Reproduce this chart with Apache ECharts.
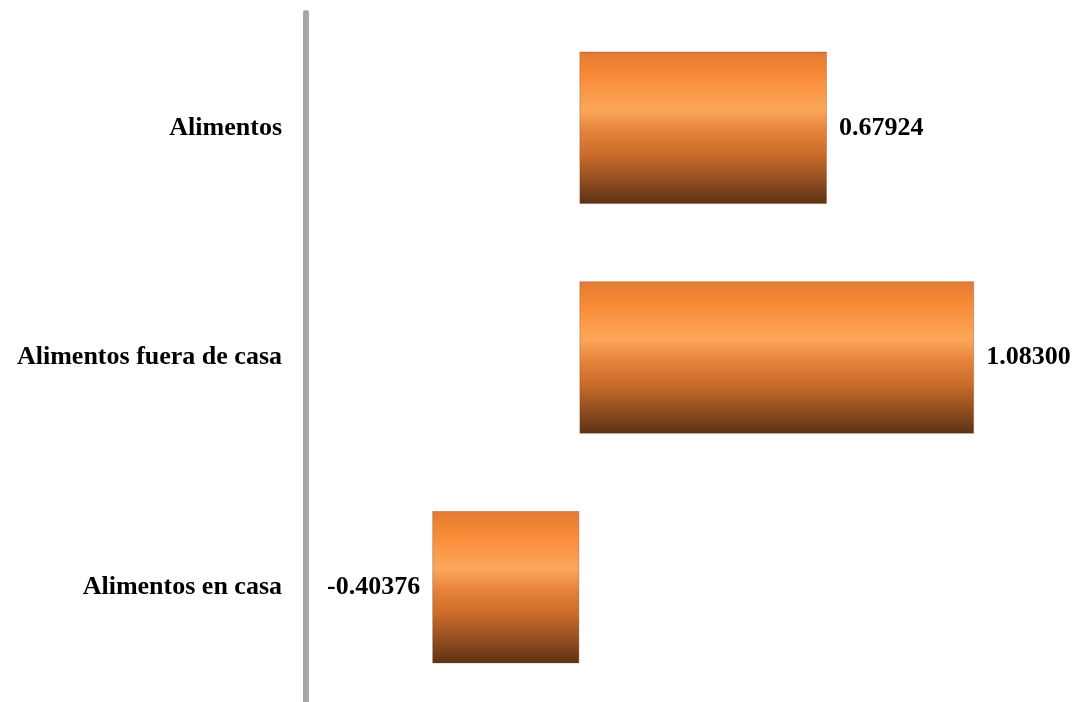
<!DOCTYPE html>
<html>
<head>
<meta charset="utf-8">
<style>
  html, body { margin: 0; padding: 0; background: #ffffff; }
  #chart { width: 1080px; height: 702px; }
</style>
<script src="https://cdn.jsdelivr.net/npm/echarts@6/dist/echarts.min.js"></script>
</head>
<body>
<div id="chart"></div>
<script>
// Categories (top to bottom) and their values
const categories = ['Alimentos', 'Alimentos fuera de casa', 'Alimentos en casa'];
const values = [0.67924, 1.08300, -0.40376];

const FONT = '"Liberation Serif", "Times New Roman", serif';

// Cylinder-like vertical shading for the bars
const barGradient = new echarts.graphic.LinearGradient(0, 0, 0, 1, [
  { offset: 0.00, color: '#e27a32' },
  { offset: 0.15, color: '#f88a36' },
  { offset: 0.38, color: '#fca75b' },
  { offset: 0.52, color: '#e6833b' },
  { offset: 0.68, color: '#c96b2b' },
  { offset: 0.86, color: '#8c4b1f' },
  { offset: 1.00, color: '#5c3213' }
]);

const chart = echarts.init(document.getElementById('chart'));
chart.setOption({
  animation: false,
  grid: { left: 306, width: 729, top: 13, height: 690 },
  xAxis: {
    type: 'value',
    min: -0.75,
    max: 1.25,
    show: false
  },
  yAxis: {
    type: 'category',
    data: categories,
    inverse: true,
    axisLine: { show: true, onZero: false, lineStyle: { color: '#a6a6a6', width: 6 } },
    axisTick: { show: false },
    axisLabel: {
      margin: 24,
      color: '#000000',
      fontFamily: FONT,
      fontWeight: 'bold',
      fontSize: 26
    }
  },
  series: [{
    type: 'bar',
    data: values.map(v => ({
      value: v,
      label: { position: v < 0 ? 'left' : 'right' }
    })),
    barCategoryGap: '33.6%',
    itemStyle: { color: barGradient, borderColor: 'rgba(120,60,20,0.35)', borderWidth: 1 },
    label: {
      show: true,
      distance: 12,
      color: '#000000',
      fontFamily: FONT,
      fontWeight: 'bold',
      fontSize: 26,
      formatter: p => p.value.toFixed(5)
    }
  }]
});
</script>
</body>
</html>
